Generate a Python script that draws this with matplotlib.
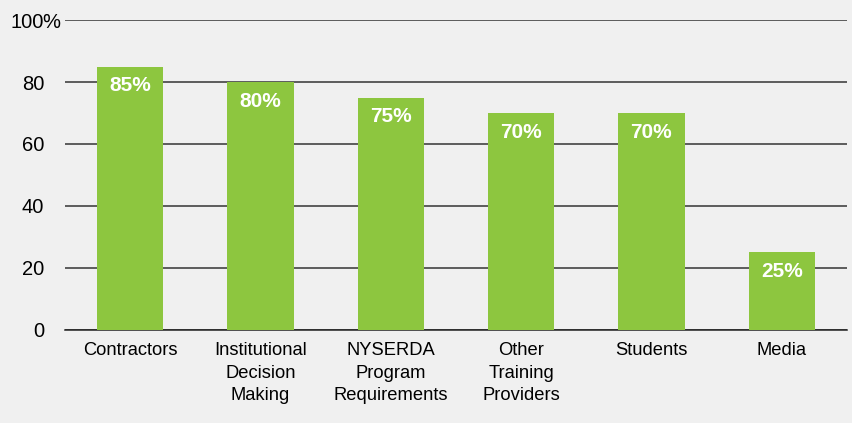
import matplotlib.pyplot as plt
import matplotlib.transforms as mtransforms

plt.rcParams['font.family'] = ['Liberation Sans', 'DejaVu Sans']

# data
categories = ["Contractors", "Institutional\nDecision\nMaking", "NYSERDA\nProgram\nRequirements",
              "Other\nTraining\nProviders", "Students", "Media"]
values = [85, 80, 75, 70, 70, 25]
yticks = [0, 20, 40, 60, 80, 100]

bg = '#f0f0f0'
green = '#8dc63f'

fig = plt.figure(figsize=(8.52, 4.23), dpi=100, facecolor=bg)
ax = fig.add_axes([0.0763, 0.2199, 0.9177, 0.7328], facecolor=bg)

x = range(len(categories))
bars = ax.bar(x, values, width=0.51, color=green, zorder=3)

for b, v in zip(bars, values):
	ax.annotate(f"{v}%", (b.get_x() + b.get_width() / 2, v), xytext=(0, -7),
		textcoords='offset points', ha='center', va='top',
		color='white', fontsize=15, fontweight='bold', zorder=4)

ax.set_xlim(-0.5, 5.5)
ax.set_ylim(0, 100)
ax.set_yticks(yticks)
ax.set_yticklabels([str(t) for t in yticks])
ax.yaxis.grid(True, color='#333333', linewidth=1.1, zorder=1)
ax.set_xticks(list(x))
ax.set_xticklabels(categories, fontsize=13.2, linespacing=1.45)
ax.tick_params(axis='both', length=0)
ax.tick_params(axis='y', pad=15, labelsize=14.5)
ax.tick_params(axis='x', pad=8.5)
for s in ['top', 'right', 'left']:
	ax.spines[s].set_visible(False)
ax.spines['bottom'].set_color('#222222')
ax.spines['bottom'].set_linewidth(1.1)

# the % sign sticks out past the number column on the top label
trans = mtransforms.blended_transform_factory(ax.transAxes, ax.transData)
ax.text(-0.0285, 100, "%", transform=trans, ha='left', va='center_baseline', fontsize=14.5)

fig.savefig("out.png", dpi=100, facecolor=bg)
